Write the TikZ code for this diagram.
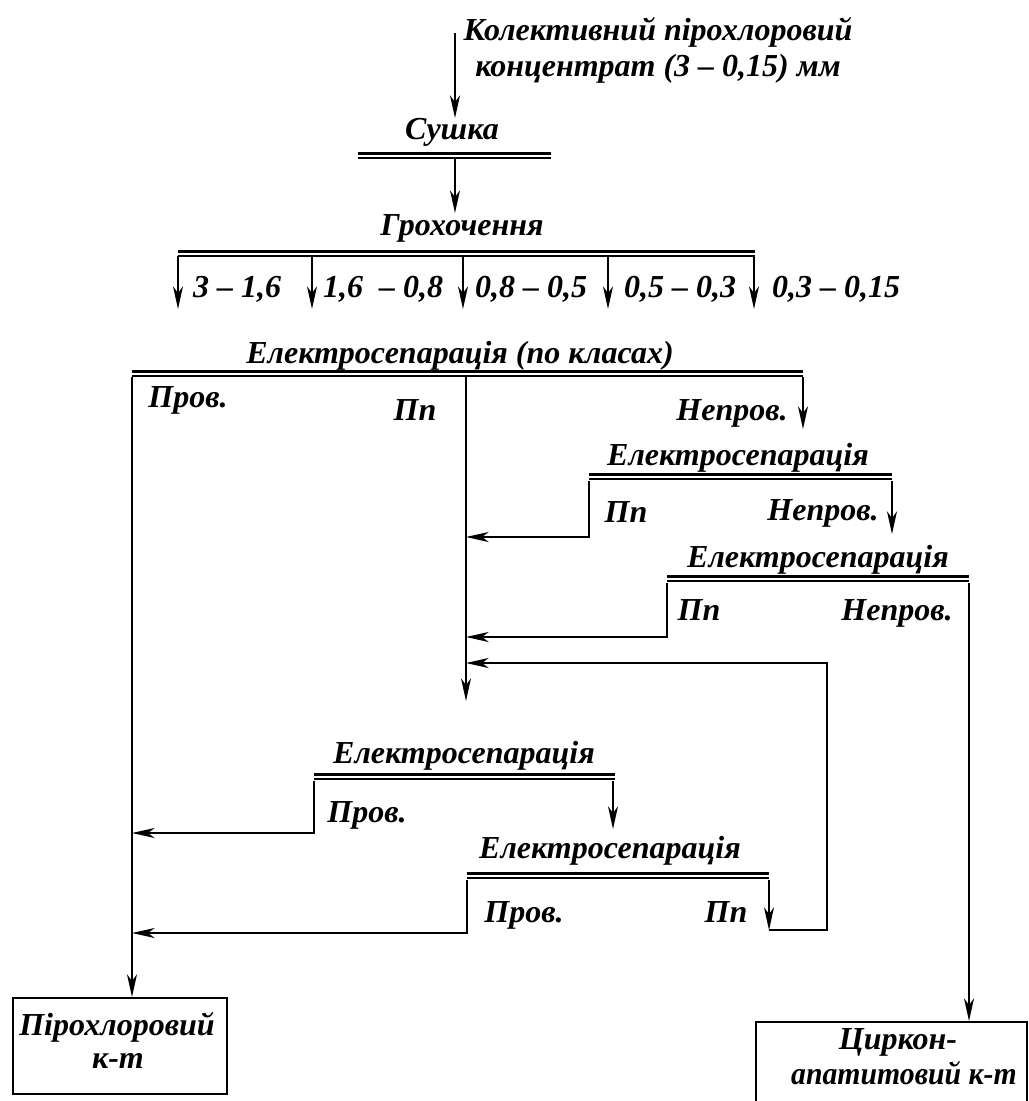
\documentclass[tikz,border=0pt]{standalone}
\usepackage{fontspec}
\setmainfont{Liberation Serif}
\usetikzlibrary{arrows.meta}
\newcommand\dbl[3]{%
  \draw[line width=2pt] (#1,{#3+1.3}) -- (#2,{#3+1.3});
  \draw[line width=1.6pt] (#1,{#3+5.6}) -- (#2,{#3+5.6});}
\begin{document}
\begin{tikzpicture}[x=0.75pt,y=-0.75pt,
  lbl/.style={font=\fontsize{24}{28}\selectfont\bfseries\itshape, inner sep=0pt, anchor=base},
  ln/.style={line width=1.4pt},
  arr/.style={ln, -{Stealth[length=17pt,width=7.5pt,inset=5pt]}},
  box/.style={draw, line width=1.5pt, inner sep=0pt, anchor=north west}]
\useasboundingbox (0,0) rectangle (1029,1101);
\clip (0,0) rectangle (1029,1101);
% top input
\node[lbl] (in1) at (658,40) {Колективний пірохлоровий};
\node[lbl] (in2) at (658,76) {концентрат (3 – 0,15) мм};
\coordinate (inA) at (455,33);
\coordinate (suT) at (455,118);
\draw[arr] (inA) -- (suT);
% Sushka
\node[lbl] (su) at (452,139) {Сушка};
\dbl{358}{551}{152}
\coordinate (suB) at (455,159);
\coordinate (grT) at (455,213);
\draw[arr] (suB) -- (grT);
% Grokhochennia
\node[lbl] (gr) at (462,235) {Грохочення};
\dbl{178}{755}{250}
\foreach \i/\x in {1/178,2/312,3/463,4/608,5/754}{
  \coordinate (g\i a) at (\x,256);
  \coordinate (g\i b) at (\x,309);
  \draw[arr] (g\i a) -- (g\i b);
}
\node[lbl] (r1) at (237,297) {3 – 1,6};
\node[lbl] (r2) at (383,297) {1,6~~– 0,8};
\node[lbl] (r3) at (531,297) {0,8 – 0,5};
\node[lbl] (r4) at (680,297) {0,5 – 0,3};
\node[lbl] (r5) at (836,297) {0,3 – 0,15};
% Electroseparation by classes
\node[lbl] (e1) at (460,363) {Електросепарація (по класах)};
\dbl{132}{803}{370}
\coordinate (e1L) at (132,377);
\coordinate (e1M) at (466,377);
\coordinate (e1R) at (803,377);
\coordinate (e1Rt) at (803,429);
\coordinate (mid) at (466,701);
\node[lbl] (p1) at (188,407) {Пров.};
\node[lbl] (pp1) at (415,420) {Пп};
\node[lbl] (n1) at (732,420) {Непров.};
\draw[arr] (e1R) -- (e1Rt);
\draw[arr] (e1M) -- (mid);
% second
\node[lbl] (e2) at (738,465) {Електросепарація};
\dbl{589}{892}{473}
\coordinate (e2L) at (589,481);
\coordinate (e2Lb) at (589,537);
\coordinate (e2R) at (892,481);
\coordinate (e2Rt) at (892,534);
\node[lbl] (pp2) at (626,522) {Пп};
\node[lbl] (n2) at (823,520) {Непров.};
\draw[arr] (e2L) -- (e2Lb) -- (e2Lb -| e1M);
\draw[arr] (e2R) -- (e2Rt);
% third
\node[lbl] (e3) at (818,567) {Електросепарація};
\dbl{667}{969}{575}
\coordinate (e3L) at (667,583);
\coordinate (e3Lb) at (667,637);
\coordinate (e3R) at (969,583);
\node[lbl] (pp3) at (699,620) {Пп};
\node[lbl] (n3) at (897,620) {Непров.};
\draw[arr] (e3L) -- (e3Lb) -- (e3Lb -| e1M);
% fourth
\node[lbl] (e4) at (464,763) {Електросепарація};
\dbl{314}{615}{773}
\coordinate (e4L) at (314,781);
\coordinate (e4Lb) at (314,833);
\coordinate (e4R) at (613,781);
\coordinate (e4Rt) at (613,829);
\node[lbl] (p4) at (367,822) {Пров.};
\draw[arr] (e4L) -- (e4Lb) -- (e4Lb -| e1L);
\draw[arr] (e4R) -- (e4Rt);
% fifth
\node[lbl] (e5) at (610,858) {Електросепарація};
\dbl{467}{769}{872}
\coordinate (e5L) at (467,880);
\coordinate (e5Lb) at (467,933);
\coordinate (e5R) at (769,880);
\coordinate (e5Rb) at (769,930);
\coordinate (rc1) at (827,930);
\coordinate (rc2) at (827,663);
\node[lbl] (p5) at (524,922) {Пров.};
\node[lbl] (pp5) at (726,922) {Пп};
\draw[arr] (e5L) -- (e5Lb) -- (e5Lb -| e1L);
\draw[arr] (e5R) -- (e5Rb);
\draw[arr] (e5Rb) -- (rc1) -- (rc2) -- (rc2 -| e1M);
% products
\node[box, minimum width=160.5pt, minimum height=72pt] (pk) at (12,997) {};
\node[lbl] (pk1) at (117,1035) {Пірохлоровий};
\node[lbl] (pk2) at (118,1068) {к-т};
\node[box, minimum width=203pt, minimum height=70pt] (zk) at (755,1021) {};
\node[lbl] (zk1) at (898,1049) {Циркон-};
\node[lbl] (zk2) at (904,1084) {\scalebox{0.93}[1]{апатитовий к-т}};
\draw[arr] (e1L) -- (e1L |- pk.north);
\draw[arr] (e3R) -- (e3R |- zk.north);
\end{tikzpicture}
\end{document}
